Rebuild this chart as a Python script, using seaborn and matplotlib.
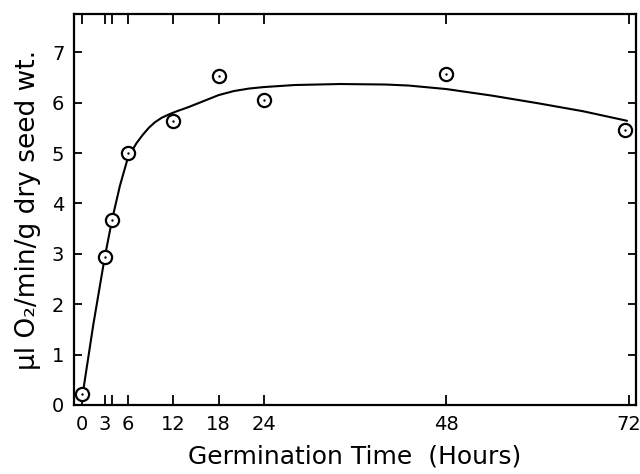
import numpy as np
import pandas as pd
import matplotlib
matplotlib.use("Agg")
import matplotlib.pyplot as plt
import seaborn as sns

# Measured points
hours = [0, 3, 4, 6, 12, 18, 24, 48, 71.5]
uptake = [0.22, 2.93, 3.68, 5.0, 5.64, 6.52, 6.06, 6.56, 5.46]

# Fitted curve as drawn
curve_hours = [0.1, 1.5, 3, 4, 5, 6, 6.6, 7.2, 8, 8.8, 9.6, 10.5, 11.5, 12.5, 14, 16, 18, 20, 22, 24, 28, 34, 40, 43, 48, 54, 60, 66, 71.8]
curve_vals = [0.22, 1.6, 2.93, 3.7, 4.35, 4.88, 5.05, 5.2, 5.36, 5.5, 5.61, 5.7, 5.77, 5.83, 5.91, 6.03, 6.15, 6.23, 6.28, 6.31, 6.35, 6.37, 6.36, 6.34, 6.27, 6.14, 5.99, 5.83, 5.64]

xticks = [0, 3, 6, 12, 18, 24, 48, 72]
yticks = [0, 1, 2, 3, 4, 5, 6, 7]

sns.set_style("ticks")
plt.rcParams['font.family'] = ['DejaVu Sans']
plt.rcParams['text.color'] = 'black'
plt.rcParams['axes.labelcolor'] = 'black'
plt.rcParams['xtick.color'] = 'black'
plt.rcParams['ytick.color'] = 'black'

fig = plt.figure(figsize=(6.4, 4.74), dpi=100)
ax = fig.add_axes([0.1156, 0.1456, 0.8784, 0.8249])

pts = pd.DataFrame({"h": hours, "v": uptake})
crv = pd.DataFrame({"h": curve_hours, "v": curve_vals})

sns.lineplot(data=crv, x="h", y="v", ax=ax, color="black", linewidth=1.5, sort=False)
sns.scatterplot(data=pts, x="h", y="v", ax=ax, marker="o", s=90, facecolor="white",
                edgecolor="black", linewidth=1.6, zorder=3)
sns.scatterplot(data=pts, x="h", y="v", ax=ax, marker="o", s=3, color="black",
                edgecolor="black", linewidth=0, zorder=4)

ax.set_xlim(-1.05, 73.0)
ax.set_ylim(0, 7.76)
ax.set_xticks(xticks)
ax.set_xticklabels([str(t) for t in xticks])
ax.set_xticks([4], minor=True)
ax.set_yticks(yticks)
ax.set_yticklabels([str(t) for t in yticks])

for s in ax.spines.values():
    s.set_visible(True)
    s.set_linewidth(1.6)
    s.set_color("black")

ax.tick_params(axis="both", which="both", direction="in", top=True, right=True,
               width=1.3, color="black", labelcolor="black", labelsize=14)
ax.tick_params(axis="x", which="both", length=7, pad=7)
ax.tick_params(axis="y", which="major", length=6, pad=7)

ax.set_xlabel("Germination Time  (Hours)", fontsize=18, labelpad=8)
ax.set_ylabel("µl O₂/min/g dry seed wt.", fontsize=19, labelpad=8)

fig.savefig("out.png", dpi=100)
